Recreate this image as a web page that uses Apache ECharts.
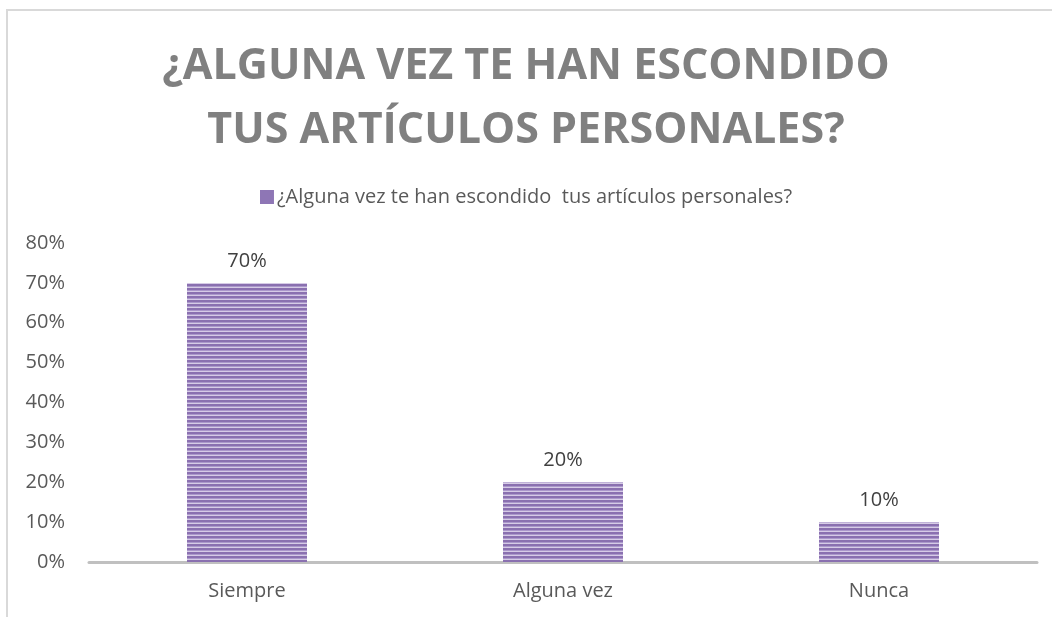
<!DOCTYPE html>
<html>
<head>
<meta charset="utf-8">
<script src="https://cdn.jsdelivr.net/npm/echarts@6/dist/echarts.min.js"></script>
<style>
  html, body { margin: 0; padding: 0; background: #fff; }
  #chart { width: 1052px; height: 617px; }
</style>
</head>
<body>
<div id="chart"></div>
<script>
const titleText = '¿ALGUNA VEZ TE HAN ESCONDIDO\nTUS ARTÍCULOS PERSONALES?';
const seriesName = '¿Alguna vez te han escondido  tus artículos personales?';
const categories = ['Siempre', 'Alguna vez', 'Nunca'];
const values = [0.7, 0.2, 0.1];
const yTicks = [0, 0.1, 0.2, 0.3, 0.4, 0.5, 0.6, 0.7, 0.8];

// striped fill like the excel pattern
function stripes() {
  const c = document.createElement('canvas');
  c.width = 8; c.height = 4;
  const ctx = c.getContext('2d');
  ctx.fillStyle = '#d6cbe6';
  ctx.fillRect(0, 0, 8, 4);
  ctx.fillStyle = '#8a70b0';
  ctx.fillRect(0, 0, 8, 2);
  ctx.fillStyle = '#ab98cb';
  ctx.fillRect(0, 2, 8, 1);
  return c;
}
const pattern = { image: stripes(), repeat: 'repeat' };

const pct = v => Math.round(v * 100) + '%';
const font = '"Open Sans", sans-serif';

const myChart = echarts.init(document.getElementById('chart'));
const option = {
  animation: false,
  title: {
    text: titleText,
    left: 'center',
    top: 30,
    textStyle: {
      fontFamily: font,
      fontSize: 43,
      fontWeight: 'bold',
      color: '#808080',
      lineHeight: 64
    }
  },
  legend: {
    top: 182,
    left: 'center',
    itemWidth: 14,
    itemHeight: 14,
    icon: 'rect',
    textStyle: { fontFamily: font, fontSize: 20, color: '#595959', padding: [0, 0, 0, -2] },
    data: [{ name: seriesName, itemStyle: { color: '#8e76b5' } }]
  },
  graphic: [{
    type: 'rect',
    shape: { x: 7, y: 10, width: 1200, height: 800 },
    style: { fill: 'none', stroke: '#d9d9d9', lineWidth: 2 },
    silent: true,
    z: -1
  }],
  grid: { left: 89, right: 15, top: 243, bottom: 55 },
  xAxis: {
    type: 'category',
    data: categories,
    axisLine: { lineStyle: { color: '#c0c0c0', width: 3 } },
    axisTick: { show: false },
    axisLabel: { fontFamily: font, fontSize: 20, color: '#595959', margin: 19 }
  },
  yAxis: {
    type: 'value',
    min: 0,
    max: yTicks[yTicks.length - 1],
    interval: 0.1,
    axisLine: { show: false },
    axisTick: { show: false },
    splitLine: { show: false },
    axisLabel: { fontFamily: font, fontSize: 20, color: '#595959', margin: 24, formatter: pct }
  },
  series: [{
    name: seriesName,
    type: 'bar',
    data: values,
    barWidth: 120,
    itemStyle: { color: pattern },
    label: {
      show: true,
      position: 'top',
      distance: 12,
      fontFamily: font,
      fontSize: 20,
      color: '#404040',
      formatter: p => pct(p.value)
    }
  }]
};
myChart.setOption(option);
window.addEventListener('resize', myChart.resize);
</script>
</body>
</html>
